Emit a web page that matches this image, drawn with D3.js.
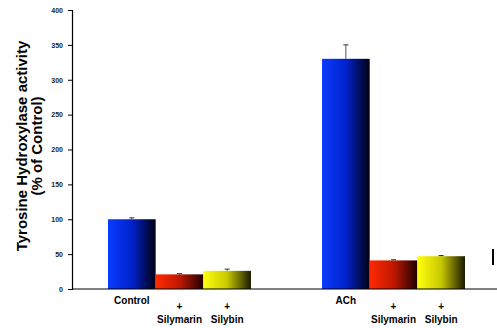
<!DOCTYPE html>
<html>
<head>
<meta charset="utf-8">
<script src="https://cdn.jsdelivr.net/npm/d3@7/dist/d3.min.js"></script>
<style>
  body { margin: 0; background: #fff; }
  text { font-family: "Liberation Sans", Arial, sans-serif; font-weight: bold; }
</style>
</head>
<body>
<script>
// data
var groups = ['Control', 'ACh'];
var treatments = ['none', 'silymarin', 'silybin'];
var controlValues = [100, 21, 26];
var controlErrors = [2, 1, 2.5];
var achValues = [330, 41, 47];
var achErrors = [20, 1, 1];
var yTicks = [0, 50, 100, 150, 200, 250, 300, 350, 400];

var svgWidth = 497;
var svgHeight = 328;

var svg = d3.select('body').append('svg')
  .attr('width', svgWidth)
  .attr('height', svgHeight);

// gradients, bright on the left fading to dark on the right
var defs = svg.append('defs');
var gradColors = {
  none: ['#0a3cff', '#0022cc', '#000010'],
  silymarin: ['#ff2a00', '#c01800', '#200000'],
  silybin: ['#ffff10', '#c8c800', '#1a1a00']
};
treatments.forEach(function(t) {
  var g = defs.append('linearGradient').attr('id', 'grad-' + t)
    .attr('x1', '0%').attr('x2', '100%').attr('y1', '0%').attr('y2', '0%');
  g.append('stop').attr('offset', '0%').attr('stop-color', gradColors[t][0]);
  g.append('stop').attr('offset', '50%').attr('stop-color', gradColors[t][1]);
  g.append('stop').attr('offset', '100%').attr('stop-color', gradColors[t][2]);
});

var yScale = d3.scaleLinear()
  .domain([0, 400])
  .range([289, 10]);

var xGroup = d3.scaleBand()
  .domain(groups)
  .range([108, 465])
  .paddingInner(0.332)
  .paddingOuter(0);

var xInner = d3.scaleBand()
  .domain(treatments)
  .range([0, xGroup.bandwidth()]);

var rows = [];
groups.forEach(function(g, gi) {
  var vals = gi === 0 ? controlValues : achValues;
  var errs = gi === 0 ? controlErrors : achErrors;
  treatments.forEach(function(t, ti) {
    rows.push({ group: g, treatment: t, value: vals[ti], err: errs[ti] });
  });
});

// y axis
var leftAxis = d3.axisLeft(yScale)
  .tickValues(yTicks)
  .tickSize(4)
  .tickPadding(5);

var yAxisG = svg.append('g')
  .attr('transform', 'translate(72, 0)')
  .call(leftAxis);
yAxisG.select('.domain').attr('stroke', '#000').attr('stroke-width', 1.2);
yAxisG.selectAll('.tick line').attr('stroke', '#000');
yAxisG.selectAll('.tick text')
  .attr('font-size', 7)
  .attr('fill', '#222')
  .attr('font-family', '"Liberation Sans", Arial, sans-serif')
  .attr('font-weight', 'bold');

// bars
svg.selectAll('rect.bar')
  .data(rows)
  .enter()
  .append('rect')
  .attr('class', 'bar')
  .attr('x', function(d) { return xGroup(d.group) + xInner(d.treatment); })
  .attr('y', function(d) { return yScale(d.value); })
  .attr('width', xInner.bandwidth())
  .attr('height', function(d) { return yScale(0) - yScale(d.value); })
  .attr('fill', function(d) { return 'url(#grad-' + d.treatment + ')'; });

// error bars
var errG = svg.selectAll('g.err')
  .data(rows)
  .enter()
  .append('g')
  .attr('class', 'err');
errG.append('line')
  .attr('x1', function(d) { return xGroup(d.group) + xInner(d.treatment) + xInner.bandwidth() / 2; })
  .attr('x2', function(d) { return xGroup(d.group) + xInner(d.treatment) + xInner.bandwidth() / 2; })
  .attr('y1', function(d) { return yScale(d.value); })
  .attr('y2', function(d) { return yScale(d.value + d.err); })
  .attr('stroke', '#555')
  .attr('stroke-width', 1);
errG.append('line')
  .attr('x1', function(d) { return xGroup(d.group) + xInner(d.treatment) + xInner.bandwidth() / 2 - 2.5; })
  .attr('x2', function(d) { return xGroup(d.group) + xInner(d.treatment) + xInner.bandwidth() / 2 + 2.5; })
  .attr('y1', function(d) { return yScale(d.value + d.err); })
  .attr('y2', function(d) { return yScale(d.value + d.err); })
  .attr('stroke', '#333')
  .attr('stroke-width', 1);

// x axis line
svg.append('line')
  .attr('x1', 72)
  .attr('x2', svgWidth)
  .attr('y1', yScale(0))
  .attr('y2', yScale(0))
  .attr('stroke', '#000')
  .attr('stroke-width', 1.2);

// x labels
rows.forEach(function(d) {
  var cx = xGroup(d.group) + xInner(d.treatment) + xInner.bandwidth() / 2;
  if (d.treatment === 'none') {
    svg.append('text')
      .attr('x', cx)
      .attr('y', 304)
      .attr('text-anchor', 'middle')
      .attr('font-size', 10)
      .text(d.group);
  } else {
    svg.append('text')
      .attr('x', cx)
      .attr('y', 310)
      .attr('text-anchor', 'middle')
      .attr('font-size', 10)
      .text('+');
    svg.append('text')
      .attr('x', cx)
      .attr('y', 323)
      .attr('text-anchor', 'middle')
      .attr('font-size', 10)
      .text(d.treatment === 'silymarin' ? 'Silymarin' : 'Silybin');
  }
});

// y axis title
svg.append('text')
  .attr('transform', 'rotate(-90)')
  .attr('x', -146)
  .attr('y', 27)
  .attr('text-anchor', 'middle')
  .attr('font-size', 15)
  .text('Tyrosine Hydroxylase activity');
svg.append('text')
  .attr('transform', 'rotate(-90)')
  .attr('x', -146)
  .attr('y', 42)
  .attr('text-anchor', 'middle')
  .attr('font-size', 15)
  .text('(% of Control)');

// clipped legend fragment at the right edge
svg.append('rect')
  .attr('x', 492)
  .attr('y', 249)
  .attr('width', 2)
  .attr('height', 16)
  .attr('fill', '#000');
</script>
</body>
</html>
